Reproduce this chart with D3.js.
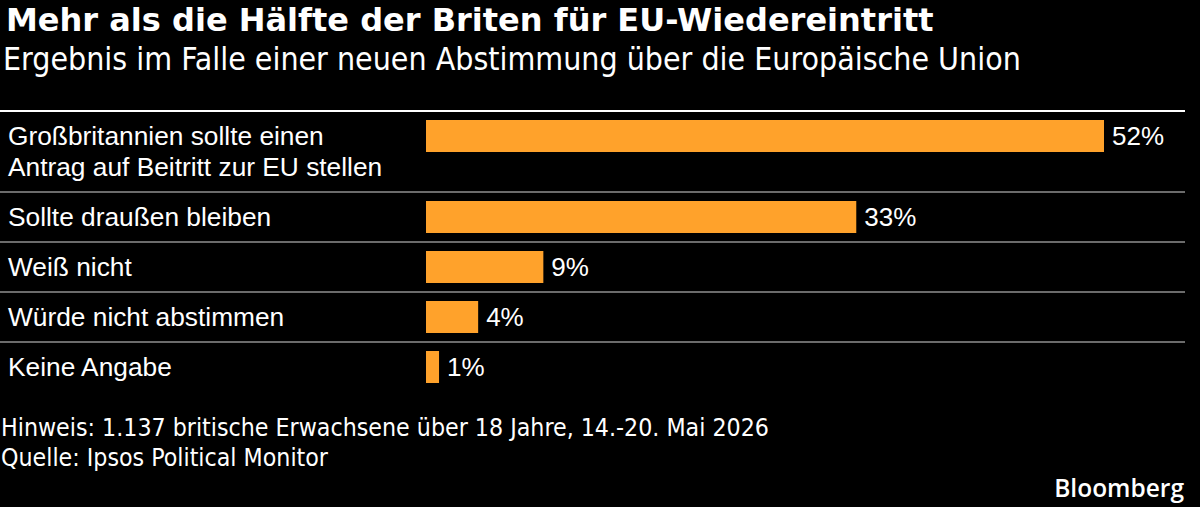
<!DOCTYPE html>
<html>
<head>
<meta charset="utf-8">
<script src="https://cdn.jsdelivr.net/npm/d3@7"></script>
<style>
  body { margin: 0; background: #000; }
  svg { display: block; }
</style>
</head>
<body>
<svg id="chart" width="1200" height="507"></svg>
<script>
// data
const categories = [
    ["Großbritannien sollte einen", "Antrag auf Beitritt zur EU stellen"],
    ["Sollte draußen bleiben"],
    ["Weiß nicht"],
    ["Würde nicht abstimmen"],
    ["Keine Angabe"]
];
const values = [52, 33, 9, 4, 1];
const valueLabels = ["52%", "33%", "9%", "4%", "1%"];

const title = "Mehr als die Hälfte der Briten für EU-Wiedereintritt";
const subtitle = "Ergebnis im Falle einer neuen Abstimmung über die Europäische Union";
const notes = [
    "Hinweis: 1.137 britische Erwachsene über 18 Jahre, 14.-20. Mai 2026",
    "Quelle: Ipsos Political Monitor"
];

const svg = d3.select("#chart");
const W = 1200, H = 507;

svg.append("rect").attr("width", W).attr("height", H).attr("fill", "#000");

const condensed = "'DejaVu Sans Condensed', 'DejaVu Sans', sans-serif";
const labelFont = "'Liberation Sans', Arial, sans-serif";

svg.append("text")
    .attr("x", 6).attr("y", 31)
    .attr("fill", "#fff")
    .style("font-family", "'DejaVu Sans', sans-serif")
    .style("font-weight", "bold")
    .style("font-size", "32px")
    .text(title);

svg.append("text")
    .attr("x", 3).attr("y", 70)
    .attr("fill", "#fff")
    .style("font-family", condensed)
    .style("font-size", "31.8px")
    .text(subtitle);

// rows: height depends on number of label lines
const lineH = 31;
const rowPad = 19;
const topY = 111;
let rows = [];
let yy = topY;
categories.forEach(function(c, i) {
    const h = rowPad + lineH * c.length;
    rows.push({ lines: c, value: values[i], label: valueLabels[i], y: yy, h: h });
    yy += h;
});

const x = d3.scaleLinear()
    .domain([0, 52])
    .range([426, 1104]);

// top white rule
svg.append("line")
    .attr("x1", 0).attr("x2", 1185)
    .attr("y1", topY).attr("y2", topY)
    .attr("stroke", "#fff")
    .attr("stroke-width", 2);

const row = svg.selectAll("g.row")
    .data(rows)
    .enter()
    .append("g")
    .attr("class", "row")
    .attr("transform", function(d) { return "translate(0," + d.y + ")"; });

row.filter(function(d, i) { return i > 0; })
    .append("line")
    .attr("x1", 0).attr("x2", 1185)
    .attr("y1", 0).attr("y2", 0)
    .attr("stroke", "#6b6b6b")
    .attr("stroke-width", 2);

row.append("rect")
    .attr("x", x(0))
    .attr("y", 9)
    .attr("height", 32)
    .attr("width", function(d) { return x(d.value) - x(0); })
    .attr("fill", "#ffa22b");

row.append("text")
    .attr("x", function(d) { return x(d.value) + 8; })
    .attr("y", 34)
    .attr("fill", "#fff")
    .style("font-family", labelFont)
    .style("font-size", "26px")
    .text(function(d) { return d.label; });

row.each(function(d) {
    const g = d3.select(this);
    d.lines.forEach(function(line, j) {
        g.append("text")
            .attr("x", 8)
            .attr("y", 34 + j * lineH)
            .attr("fill", "#fff")
            .style("font-family", labelFont)
            .style("font-size", "26.3px")
            .text(line);
    });
});

svg.selectAll("text.note")
    .data(notes)
    .enter()
    .append("text")
    .attr("class", "note")
    .attr("x", 1)
    .attr("y", function(d, i) { return 436 + i * 29.5; })
    .attr("fill", "#fff")
    .style("font-family", condensed)
    .style("font-size", "24.7px")
    .text(function(d) { return d; });

svg.append("text")
    .attr("x", 1184).attr("y", 497)
    .attr("text-anchor", "end")
    .attr("fill", "#fff")
    .style("font-family", "'Open Sans', sans-serif")
    .style("font-weight", "600")
    .style("font-size", "24.5px")
    .text("Bloomberg");
</script>
</body>
</html>
